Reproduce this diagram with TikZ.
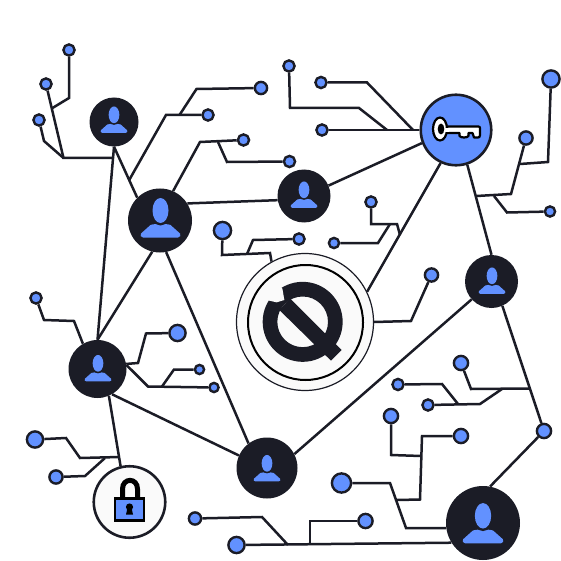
\documentclass[tikz,border=0pt]{standalone}
\usetikzlibrary{backgrounds}
\definecolor{ink}{HTML}{1B1C26}
\definecolor{azure}{HTML}{6291FF}
\definecolor{paper}{HTML}{FAFAFA}
\tikzset{
  x=1pt,y=-1pt,
  wire/.style={draw=ink,line width=2.5pt,line join=miter},
  term/.style={circle,draw=ink,fill=azure,line width=2.4pt,inner sep=0pt,minimum size=#1*2pt-1.8pt},
  person/.style={circle,fill=ink,inner sep=0pt,minimum size=#1*2pt},
  usericon/.pic={
    \fill[azure] (-17.5,17) .. controls (-20,17) and (-20.5,14.5) .. (-19.5,13) -- (-10,4.5)
      .. controls (-6,3) and (6,3) .. (10,4.5) -- (19.5,13)
      .. controls (20.5,14.5) and (20,17) .. (17.5,17) -- cycle;
    \fill[ink] (0,-10) ellipse [x radius=10.5,y radius=15];
    \fill[azure] (0,-10) ellipse [x radius=8,y radius=12.5];
  }
}
\begin{document}
\begin{tikzpicture}
\useasboundingbox (0,0) rectangle (561,561);
% hubs
\node[person=24.5] (u1) at (114,122) {};
\node[person=32] (u2) at (160,220.5) {};
\node[person=26.5] (u3) at (304,196) {};
\node[person=26.5] (u4) at (491.5,281.5) {};
\node[person=29] (u5) at (97.5,369) {};
\node[person=30.5] (u6) at (267,468) {};
\node[person=37] (u7) at (483,523) {};
\node[circle,draw=ink,fill=azure,line width=2.6pt,inner sep=0pt,minimum size=70.5pt] (key) at (456,130) {};
\node[circle,draw=ink,fill=paper,line width=2.6pt,inner sep=0pt,minimum size=71.5pt] (lock) at (129.5,502) {};
\node[circle,draw=ink,fill=paper,line width=1.2pt,inner sep=0pt,minimum size=137pt] (ctr) at (305,322) {};
\node[circle,draw=black,line width=2pt,inner sep=0pt,minimum size=115pt] (ctrin) at (305.5,322.5) {};
% terminals
\node[term=6.5] (ta) at (69,50) {};
\node[term=6.5] (tb) at (46,84) {};
\node[term=6.5] (tc) at (39,120) {};
\node[term=7] (td) at (261,88) {};
\node[term=6.5] (te) at (208,115) {};
\node[term=6.5] (tf) at (243.5,140) {};
\node[term=6.5] (tg) at (289.5,161.5) {};
\node[term=9.5] (th) at (222.5,230.5) {};
\node[term=6.5] (ti) at (299,239) {};
\node[term=6] (tj) at (334,243) {};
\node[term=6.5] (tk) at (371,202) {};
\node[term=6.5] (tl) at (289,66) {};
\node[term=6.5] (tm) at (321,82.5) {};
\node[term=6.5] (tn) at (322,130) {};
\node[term=9.5] (to) at (551,79) {};
\node[term=7.5] (tp) at (526,138) {};
\node[term=6] (tq) at (550,211.5) {};
\node[term=7.5] (tr) at (431.5,275) {};
\node[term=6.5] (ts) at (36,298) {};
\node[term=9] (tt) at (177.5,333) {};
\node[term=5.5] (tv) at (199.5,369.5) {};
\node[term=5.5] (tw) at (214,387.5) {};
\node[term=9] (tx) at (35,439.5) {};
\node[term=7.5] (ty) at (56,477) {};
\node[term=7] (tz) at (195,518.5) {};
\node[term=9] (taa) at (236.5,545) {};
\node[term=8] (tbb) at (365.5,521) {};
\node[term=10.5] (tcc) at (341.5,483) {};
\node[term=8] (tdd) at (391,416) {};
\node[term=8] (tee) at (461,436) {};
\node[term=6.5] (tff) at (428,405) {};
\node[term=6.5] (tgg) at (398,384.5) {};
\node[term=8] (thh) at (461,363) {};
\node[term=8] (tii) at (544,431) {};
% junctions
\coordinate (jleft) at (63.5,158);
\coordinate (jlefte) at (112.5,158);
\coordinate (jab) at (52.5,108);
\coordinate (jup) at (129.5,179.5);
\coordinate (jtop) at (179.5,115);
\coordinate (jf) at (218,142);
\coordinate (jih) at (247,254);
\coordinate (jctr) at (400,235);
\coordinate (jkk) at (390,224);
\coordinate (jlk) at (387,130);
\coordinate (jm) at (413,130);
\coordinate (jp) at (476.5,196);
\coordinate (jo) at (520,164);
\coordinate (jq) at (494,196);
\coordinate (jr) at (529.5,388.5);
\coordinate (jff) at (502,389);
\coordinate (jgg) at (458,404);
\coordinate (jdd) at (421,456);
\coordinate (jee) at (397,500);
\coordinate (jbb) at (310,544);
\coordinate (jz) at (288,545);
\coordinate (jw) at (162,386.5);
\coordinate (jlx) at (119.5,457);
\coordinate (jly) at (105,458);
\begin{scope}[on background layer]
\draw[wire] (ta) -- (69,98) -- (jab);
\draw[wire] (tb) -- (jleft) -- (jlefte);
\draw[wire] (tc) -- (44,141) -- (jleft);
\draw[wire] (u1.south) -- (u5.90);
\draw[wire] (u1.south) -- (u2.135);
\draw[wire] (u2.-104) -- (u5.90);
\draw[wire] (u2.-79) -- (u6.127);
\draw[wire] (u2.32) -- (u3.189);
\draw[wire] (jup) -- (166,115) -- (te);
\draw[wire] (td) -- (196.5,89) -- (jtop);
\draw[wire] (u2.66) -- (200,142) -- (tf);
\draw[wire] (jf) -- (227,162) -- (tg);
\draw[wire] (th) -- (222,255) -- (270,253) -- (ctr.119);
\draw[wire] (jih) -- (253,240) -- (ti);
\draw[wire] (tk) -- (371,224) -- (397,224) -- (jctr);
\draw[wire] (tj) -- (378,243) -- (jkk);
\draw[wire] (ctr.26) -- (key.245);
\draw[wire] (u3.23) -- (key.201);
\draw[wire] (tl) -- (290,108) -- (359,108) -- (jlk);
\draw[wire] (tm) -- (367,82.5) -- (jm);
\draw[wire] (tn) -- (key.west);
\draw[wire] (key.-72) -- (u4.90);
\draw[wire] (jp) -- (511,194) -- (tp);
\draw[wire] (jo) -- (548,162) -- (to);
\draw[wire] (jq) -- (507,212.5) -- (tq);
\draw[wire] (tr) -- (411,321) -- (ctr.east);
\draw[wire] (u4.222) -- (u6.27);
\draw[wire] (u4.-66) -- (tii);
\draw[wire] (u7.79) -- (tii);
\draw[wire] (thh) -- (471,389) -- (jr);
\draw[wire] (tff) -- (480,404) -- (jff);
\draw[wire] (tgg) -- (442,384) -- (jgg);
\draw[wire] (tdd) -- (391,455) -- (jdd);
\draw[wire] (tee) -- (422,436) -- (420,499.5) -- (jee);
\draw[wire] (tcc) -- (390,483) -- (406,528) -- (u7.188);
\draw[wire] (taa) -- (u7.212);
\draw[wire] (tbb) -- (310,521) -- (jbb);
\draw[wire] (tz) -- (262,517) -- (jz);
\draw[wire] (ts) -- (44,320) -- (74,321) -- (u5.120);
\draw[wire] (tt) -- (146,333.5) -- (138,363) -- (u5.10);
\draw[wire] (u5.8) -- (148,386.5) -- (tw);
\draw[wire] (jw) -- (174,369.5) -- (tv);
\draw[wire] (u5.-60) -- (u6.156);
\draw[wire] (u5.-67) -- (lock.104);
\draw[wire] (tx) -- (66,438) -- (80,458) -- (jlx);
\draw[wire] (ty) -- (85,476) -- (jly);
\end{scope}
% person icons
\pic[scale=.67] at (114,121.5) {usericon};
\pic at (160.5,220.5) {usericon};
\pic[scale=.67] at (304,196.5) {usericon};
\pic[scale=.67] at (492,282.5) {usericon};
\pic[scale=.67] at (98,370) {usericon};
\pic[scale=.67] at (267,470) {usericon};
\pic[scale=1.02] at (483,526) {usericon};
% logo
\begin{scope}[shift={(230,250)},scale=1/3]
\fill[ink,even odd rule] (218,215.5) circle [radius=120] (218,215.5) circle [radius=76];
\fill[ink] (180,145) -- (335,300) -- (303,332) -- (148,180) -- cycle;
\fill[paper] (118,152) -- (140,157) -- (163,150) -- (157,115) -- (115,105) -- (95,135) -- cycle;
\end{scope}
% key
\draw[black,fill=white,line width=2.2pt,line join=round] (447,126.5) -- (478.5,126.5)
  .. controls (480,126.5) and (480,127.5) .. (480,128.5) -- (480,135) .. controls (480,137) and (479,137.5) .. (478,137.5)
  -- (474,137.5) -- (472.5,133) -- (468.5,133) -- (468.5,136) .. controls (467,138) and (461,138) .. (459.5,136) -- (459.5,133) -- (447,133) -- cycle;
\draw[black,fill=white,line width=2.2pt] (440,129) ellipse [x radius=7,y radius=11.5];
\fill[white] (444,127.6) rectangle (449,131.9);
\fill[black] (441,129) ellipse [x radius=3.3,y radius=5.5];
% padlock
\draw[black,line width=5pt] (122.5,498) -- (122.5,489) .. controls (122.5,477.5) and (137.5,477.5) .. (137.5,489) -- (137.5,498);
\draw[black,fill=azure,line width=2.4pt] (115,498.5) rectangle (144,520.5);
\fill[black] (129.5,507) circle [radius=3.6];
\fill[black] (127.5,508) -- (131.5,508) -- (133,514.5) -- (126,514.5) -- cycle;
\end{tikzpicture}
\end{document}
